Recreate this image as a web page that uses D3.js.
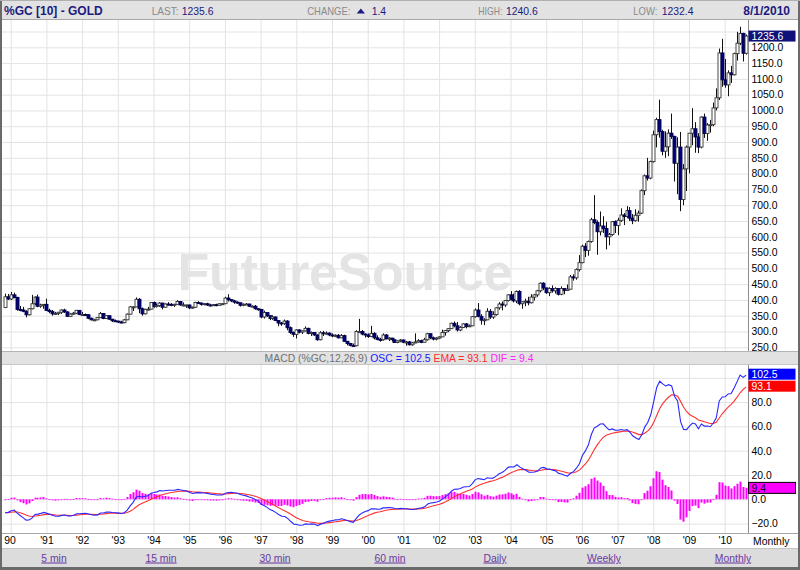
<!DOCTYPE html>
<html><head><meta charset="utf-8">
<script src="https://cdn.jsdelivr.net/npm/d3@7"></script>
<style>
body{margin:0;background:#fff}
svg{display:block;font-family:"Liberation Sans",Arial,sans-serif}
</style>
</head><body>
<svg id="chart" width="800" height="570"></svg>
<script>
// ---------- DATA (monthly gold futures, Nov 1989 .. Aug 2010) ----------
const startYear = 1989, startMonth = 10; // first candle: Nov 1989
const opens = [
 376,410,
 403,416,408,370,368,364,353,372,388,409,380,384,
 386,367,363,356,357,361,368,362,348,355,358,367,
 354,354,353,342,337,337,344,357,341,350,339,334,
 333,330,328,337,355,378,378,402,372,356,370,371,
 392,379,382,390,377,387,386,385,386,395,384,384,
 384,375,377,392,390,386,388,384,383,385,383,388,
 388,406,401,397,393,391,383,386,387,380,380,372,
 370,346,360,350,341,346,335,327,326,333,312,297,
 291,305,298,302,310,294,297,289,274,296,293,295,
 289,286,288,280,287,269,262,256,255,300,300,292,
 289,284,294,280,275,274,289,277,279,274,265,270,
 273,266,267,258,264,267,271,266,274,293,280,276,
 279,283,297,303,309,326,318,305,313,324,316,318,
 347,368,348,336,337,364,346,354,375,387,384,398,
 416,402,397,427,388,394,396,391,409,416,429,453,
 438,423,436,429,436,418,436,430,434,473,470,496,
 518,570,557,585,654,645,616,634,626,600,607,648,
 636,652,669,664,683,659,651,668,675,746,793,786,
 838,923,971,933,871,885,928,918,833,884,718,815,
 884,928,942,916,884,979,927,954,955,1008,1040,1182,
 1097,1081,1119,1113,1180,1213,1244,1181];
const highs = [
 420,419,
 425,423,410,381,378,367,374,416,411,417,388,387,
 404,372,368,362,362,370,372,364,358,362,368,367,
 362,357,355,344,340,345,362,358,352,351,340,338,
 334,334,340,357,381,380,408,406,376,372,378,393,
 395,388,393,391,389,393,390,388,399,396,392,385,
 385,379,394,396,392,390,391,388,387,388,389,390,
 410,418,402,400,396,392,389,390,388,383,384,373,
 370,366,360,351,351,348,336,330,338,336,316,300,
 307,307,302,316,312,300,298,291,301,302,300,297,
 294,291,292,292,290,270,264,262,304,340,305,294,
 294,318,298,288,280,294,292,282,280,275,272,276,
 275,270,270,267,294,276,274,280,296,294,284,282,
 285,306,305,311,328,332,330,317,326,327,322,349,
 373,390,355,342,374,371,364,377,393,395,400,418,
 428,420,430,431,396,404,410,418,419,432,455,456,
 439,440,446,440,437,443,437,449,479,481,500,542,
 575,580,588,660,732,652,680,665,648,612,650,652,
 660,690,675,697,694,672,687,683,750,797,850,841,
 936,977,1034,939,934,940,990,920,915,932,830,889,
 928,1007,963,928,981,990,960,970,1025,1070,1196,1227,
 1163,1127,1141,1183,1249,1265,1246,1240.6];
const lows = [
 374,400,
 400,405,366,364,361,345,351,370,384,377,375,372,
 365,358,350,353,352,356,359,346,346,353,355,352,
 349,350,339,335,333,336,343,339,340,337,330,332,
 327,326,326,336,354,365,377,358,350,354,366,370,
 375,376,378,370,375,382,380,378,385,382,380,375,
 371,372,375,387,382,383,381,379,381,380,382,384,
 387,395,393,388,388,379,380,384,378,377,369,366,
 342,341,346,336,337,333,317,318,321,304,292,283,
 278,294,292,300,291,286,286,271,272,286,290,285,
 282,282,278,279,267,256,253,251,253,295,288,281,
 280,282,275,272,268,271,275,270,269,264,263,266,
 263,255,256,255,263,265,263,265,271,276,272,272,
 276,283,287,298,308,313,300,301,311,310,315,317,
 344,345,322,320,336,340,340,350,369,367,378,395,
 399,392,390,383,372,380,383,389,398,410,424,431,
 419,412,423,420,414,415,418,429,433,461,464,490,
 516,536,540,581,640,543,604,612,560,573,603,612,
 605,647,637,660,650,640,648,648,672,732,778,782,
 835,883,914,858,850,855,910,775,735,681,700,745,
 801,890,866,865,880,913,904,930,950,1000,1033,1075,
 1072,1045,1087,1111,1158,1207,1155,1177];
const closes = [
 410,403,
 416,408,370,368,364,353,372,388,409,380,384,386,
 367,363,356,357,361,368,362,348,355,358,367,354,
 354,353,342,337,337,344,357,341,350,339,334,333,
 330,328,337,355,378,378,402,372,356,370,371,392,
 379,382,390,377,387,386,385,386,395,384,384,384,
 375,377,392,390,386,388,384,383,385,383,388,388,
 406,401,397,393,391,383,386,387,380,380,372,370,
 346,360,350,341,346,335,327,326,333,312,297,291,
 305,298,302,310,294,297,289,274,296,293,295,289,
 286,288,280,287,269,262,256,255,300,300,292,289,
 284,294,280,275,274,289,277,279,274,265,270,273,
 266,267,258,264,267,271,266,274,293,280,276,279,
 283,297,303,309,326,318,305,313,324,316,318,347,
 368,348,336,337,364,346,354,375,387,384,398,416,
 402,397,427,388,394,396,391,409,416,429,453,438,
 423,436,429,436,418,436,430,434,473,470,496,518,
 570,557,585,654,645,616,634,626,600,607,648,636,
 652,669,664,683,659,651,668,675,746,793,786,838,
 923,971,933,871,885,928,918,833,884,718,815,884,
 928,942,916,884,979,927,954,955,1008,1040,1182,1097,
 1081,1119,1113,1180,1213,1244,1181,1235.6];

// MACD(12,26,9) state at the first month
const macdStart = -11, signalStart = -11;

const yearTicks  = d3.range(1990, 2011);
const priceGrid  = d3.range(250, 1251, 50);
const priceLabels = d3.range(250, 1201, 50);
const macdGrid   = d3.range(-20, 101, 20);
const macdLabels = d3.range(-20, 81, 20);
const linkLabels = ["5 min","15 min","30 min","60 min","Daily","Weekly","Monthly"];
const linkCenters = [54, 161, 275, 390, 495, 604, 733];

const symbolTitle = "%GC [10] - GOLD";
const lastPrice = "1235.6", changeVal = "1.4", highVal = "1240.6", lowVal = "1232.4", dateStr = "8/1/2010";
const oscVal = 102.5, emaVal = 93.1, difVal = 9.4;

// ---------- MACD from closes ----------
const osc = [macdStart], sigLine = [signalStart];
{
  let e12 = closes[0], e26 = closes[0] - macdStart, s = signalStart;
  for (let i = 1; i < closes.length; i++) {
    e12 += (closes[i] - e12) * 2 / 13;
    e26 += (closes[i] - e26) * 2 / 27;
    const m = e12 - e26;
    s += (m - s) * 2 / 10;
    osc.push(m); sigLine.push(s);
  }
}
const dif = osc.map((v, i) => v - sigLine[i]);

// ---------- LAYOUT ----------
const svg = d3.select("#chart");
const W = 800, H = 570;
const plotL = 2, plotR = 748;
const pTop = 20, pBot = 351;
const mTop = 365, mBot = 533;
const fs = "10.4px";

const x = d3.scaleLinear().domain([1990, 2010]).range([10.7, 724.7]);
const xm = i => x(startYear + (startMonth + i) / 12);
const yP = d3.scaleLinear().domain([250, 1200]).range([347.3, 47.3]);
const yM = d3.scaleLinear().domain([0, 80]).range([499.3, 402.1]);

// backgrounds
svg.append("rect").attr("width", W).attr("height", H).attr("fill", "#fff");
svg.append("rect").attr("x", 0).attr("y", 0).attr("width", W).attr("height", 20).attr("fill", "#e2e2e2");
svg.append("line").attr("x1", 0).attr("x2", W).attr("y1", 19.5).attr("y2", 19.5).attr("stroke", "#a8a8a8");

const defs = svg.append("defs");
defs.append("clipPath").attr("id", "clipP").append("rect")
  .attr("x", plotL).attr("y", pTop).attr("width", plotR - plotL).attr("height", pBot - pTop);
defs.append("clipPath").attr("id", "clipM").append("rect")
  .attr("x", plotL).attr("y", mTop).attr("width", plotR - plotL).attr("height", mBot - mTop);

// ---------- GRIDS ----------
function grid(top, bottom, yScale, vals) {
  const g = svg.append("g");
  g.append("g").attr("transform", `translate(0,${top})`)
    .call(d3.axisBottom(x).tickValues(yearTicks).tickSize(bottom - top).tickFormat(""))
    .call(s => { s.select(".domain").remove(); s.selectAll("line").attr("stroke", "#e3e3e3"); });
  g.append("g").attr("transform", `translate(${plotR},0)`)
    .call(d3.axisRight(yScale).tickValues(vals).tickSize(-(plotR - plotL)).tickFormat(""))
    .call(s => { s.select(".domain").remove(); s.selectAll("line").attr("stroke", "#e3e3e3"); });
  return g;
}
grid(pTop, pBot, yP, priceGrid);
grid(mTop, mBot, yM, macdGrid);

// watermark
svg.append("text").attr("x", 345).attr("y", 290).attr("text-anchor", "middle")
  .attr("font-size", "52px").attr("font-weight", "bold").attr("fill", "#e4e4e4")
  .attr("textLength", 335).text("FutureSource");

// ---------- CANDLES ----------
const cg = svg.append("g").attr("clip-path", "url(#clipP)");
const idx = d3.range(closes.length);
cg.selectAll("line.wick").data(idx).join("line")
  .attr("x1", i => Math.round(xm(i)) + 0.5).attr("x2", i => Math.round(xm(i)) + 0.5)
  .attr("y1", i => yP(highs[i])).attr("y2", i => yP(lows[i]))
  .attr("stroke", "#111").attr("stroke-width", 1);
cg.selectAll("rect.body").data(idx).join("rect")
  .attr("x", i => Math.round(xm(i)) - 1)
  .attr("width", 3)
  .attr("y", i => yP(Math.max(opens[i], closes[i])))
  .attr("height", i => Math.max(1, Math.abs(yP(opens[i]) - yP(closes[i]))))
  .attr("fill", i => closes[i] >= opens[i] ? "#fff" : "#000080")
  .attr("stroke", i => closes[i] >= opens[i] ? "#333" : "#00004a")
  .attr("stroke-width", 0.9);

// ---------- MACD ----------
const mg = svg.append("g").attr("clip-path", "url(#clipM)");
mg.selectAll("rect.hist").data(idx).join("rect")
  .attr("x", i => Math.round(xm(i)) - 0.5)
  .attr("width", 2)
  .attr("y", i => Math.min(yM(0), yM(dif[i])))
  .attr("height", i => Math.max(0.8, Math.abs(yM(dif[i]) - yM(0))))
  .attr("fill", "#ff00ff");
const line = arr => d3.line().x((d, i) => xm(i) + 0.5).y(d => yM(d))(arr);
mg.append("path").attr("d", line(sigLine)).attr("fill", "none").attr("stroke", "#ff3030").attr("stroke-width", 1.1);
mg.append("path").attr("d", line(osc)).attr("fill", "none").attr("stroke", "#2828ff").attr("stroke-width", 1.1);

// ---------- PANEL SEPARATORS ----------
svg.append("rect").attr("x", plotL).attr("y", pBot).attr("width", W - plotL - 2).attr("height", mTop - pBot - 1)
  .attr("fill", "#e2e2e2");
svg.append("line").attr("x1", plotL).attr("x2", W).attr("y1", pBot + 0.5).attr("y2", pBot + 0.5).attr("stroke", "#b4b4b4");
svg.append("line").attr("x1", plotL).attr("x2", W).attr("y1", mTop - 0.5).attr("y2", mTop - 0.5).attr("stroke", "#c8c8c8");
svg.append("line").attr("x1", plotL).attr("x2", W).attr("y1", mBot + 0.5).attr("y2", mBot + 0.5).attr("stroke", "#a8a8a8");
svg.append("line").attr("x1", plotR + 0.5).attr("x2", plotR + 0.5).attr("y1", pTop).attr("y2", pBot).attr("stroke", "#8c8c8c");
svg.append("line").attr("x1", plotR + 0.5).attr("x2", plotR + 0.5).attr("y1", mTop).attr("y2", mBot).attr("stroke", "#8c8c8c");

// MACD title bar
const mt = svg.append("text").attr("x", 399).attr("y", 362).attr("text-anchor", "middle").attr("font-size", fs);
mt.append("tspan").attr("fill", "#707070").text("MACD (%GC,12,26,9) ");
mt.append("tspan").attr("fill", "#1a1aff").text(`OSC = ${oscVal.toFixed(1)} `);
mt.append("tspan").attr("fill", "#ff2a2a").text(`EMA = ${emaVal.toFixed(1)} `);
mt.append("tspan").attr("fill", "#ff22ff").text(`DIF = ${difVal.toFixed(1)}`);

// ---------- AXES ----------
function styleAxis(s) {
  s.select(".domain").remove();
  s.selectAll("text").attr("font-size", fs).attr("fill", "#000").attr("font-family", '"Liberation Sans",Arial,sans-serif');
}
svg.append("g").attr("transform", `translate(${plotR},0)`)
  .call(d3.axisRight(yP).tickValues(priceLabels).tickSize(0).tickPadding(3.5).tickFormat(d3.format(".1f")))
  .call(styleAxis);
svg.append("g").attr("transform", `translate(${plotR},0)`)
  .call(d3.axisRight(yM).tickValues(macdLabels).tickSize(0).tickPadding(3.5).tickFormat(d3.format(".1f")))
  .call(styleAxis);
svg.append("g").attr("transform", `translate(0,${mBot})`)
  .call(d3.axisBottom(x).tickValues(yearTicks).tickSize(0).tickPadding(4)
    .tickFormat(d => d === 1990 ? "90" : "'" + String(d).slice(2)))
  .call(styleAxis)
  .call(s => s.selectAll(".tick").filter(d => d === 1990).select("text").attr("text-anchor", "start").attr("x", -7));
svg.append("text").attr("x", 753).attr("y", 545).attr("font-size", fs).attr("fill", "#000").text("Monthly");

// value boxes
function valueBox(yc, txt, fill, color, stroke) {
  const g = svg.append("g");
  g.append("rect").attr("x", 748.5).attr("y", yc - 5.5).attr("width", 47).attr("height", 11)
    .attr("fill", fill).attr("stroke", stroke || "none");
  g.append("text").attr("x", 751.5).attr("y", yc).attr("dy", "0.35em").attr("font-size", fs)
    .attr("fill", color).text(txt);
}
valueBox(yP(+lastPrice), lastPrice, "#10107a", "#fff");
const yEma = yM(emaVal);
const yOsc = Math.min(yM(oscVal), yEma - 12);
valueBox(yOsc, oscVal.toFixed(1), "#0000ff", "#fff");
valueBox(yEma, emaVal.toFixed(1), "#ff0000", "#fff");
valueBox(yM(difVal), difVal.toFixed(1), "#ff00ff", "#1a0020", "#000");

// ---------- HEADER ----------
const hdr = (xp, t, opt) => {
  const el = svg.append("text").attr("x", xp).attr("y", 15)
    .attr("font-size", opt.size || fs).attr("font-weight", opt.bold ? "bold" : "normal")
    .attr("fill", opt.color).text(t);
  if (opt.len) el.attr("textLength", opt.len).attr("lengthAdjust", "spacingAndGlyphs");
  return el;
};
const navy = "#1b1b80", grey = "#8a8a8a";
hdr(4, symbolTitle, {size: "12px", bold: true, color: navy});
hdr(151.7, "LAST:", {color: grey, len: 27}); hdr(181.7, lastPrice, {color: navy});
hdr(307.3, "CHANGE:", {color: grey, len: 43});
svg.append("path").attr("d", "M356.7,13.5 L365,13.5 L360.85,8.5 Z").attr("fill", navy);
hdr(371.7, changeVal, {color: navy});
hdr(478.3, "HIGH:", {color: grey, len: 24}); hdr(506, highVal, {color: navy});
hdr(633.3, "LOW:", {color: grey, len: 24}); hdr(661.7, lowVal, {color: navy});
hdr(743.3, dateStr, {size: "12px", bold: true, color: navy});

// ---------- LINK BAR ----------
svg.append("rect").attr("x", 0).attr("y", 548).attr("width", W).attr("height", 20).attr("fill", "#dcdcdc");
svg.append("line").attr("x1", 0).attr("x2", W).attr("y1", 548.5).attr("y2", 548.5).attr("stroke", "#c4c4c4");
svg.selectAll("text.link").data(linkLabels).join("text")
  .attr("x", (d, i) => linkCenters[i]).attr("y", 561.5).attr("text-anchor", "middle")
  .attr("font-size", fs).attr("fill", "#6a3aa0").attr("text-decoration", "underline").text(d => d);

// ---------- OUTER FRAME ----------
svg.append("line").attr("x1", 1).attr("x2", 1).attr("y1", 0).attr("y2", H).attr("stroke", "#6a6a6a").attr("stroke-width", 2);
svg.append("line").attr("x1", W - 1).attr("x2", W - 1).attr("y1", 0).attr("y2", H).attr("stroke", "#6a6a6a").attr("stroke-width", 2);
svg.append("line").attr("x1", 0).attr("x2", W).attr("y1", H - 1.5).attr("y2", H - 1.5).attr("stroke", "#6a6a6a").attr("stroke-width", 3);
svg.append("line").attr("x1", 0).attr("x2", W).attr("y1", 0.5).attr("y2", 0.5).attr("stroke", "#b0b0b0");
</script>
</body></html>
